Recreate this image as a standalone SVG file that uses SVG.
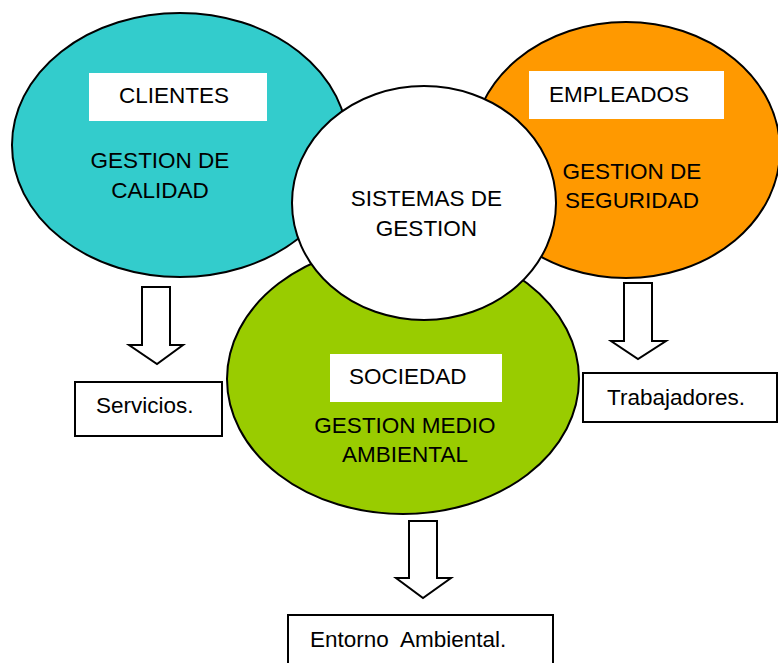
<svg xmlns="http://www.w3.org/2000/svg" width="778" height="663" viewBox="0 0 778 663">
<style>
  .ov { stroke: #000; stroke-width: 2; }
  .lbl { fill: #fff; stroke: none; }
  .box { fill: #fff; stroke: #000; stroke-width: 2; }
  .arr { fill: #fff; stroke: #000; stroke-width: 2; stroke-linejoin: miter; }
  text { font-family: "Liberation Sans", Arial, sans-serif; font-size: 22.5px; fill: #000; white-space: pre; }
  .c { text-anchor: middle; }
</style>
<rect x="0" y="0" width="778" height="663" fill="#fff"/>
<g id="calidad">
  <ellipse class="ov" cx="180" cy="145" rx="168" ry="132" fill="#33CCCC"/>
  <rect class="lbl" x="89" y="73" width="178" height="48"/>
  <text x="119" y="103">CLIENTES</text>
  <text class="c" x="160" y="168">GESTION DE</text>
  <text class="c" x="160" y="198">CALIDAD</text>
</g>
<g id="seguridad">
  <ellipse class="ov" cx="626" cy="150" rx="154" ry="128" fill="#FF9900"/>
  <rect class="lbl" x="529" y="71" width="195" height="48"/>
  <text x="549" y="102">EMPLEADOS</text>
  <text class="c" x="632" y="179">GESTION DE</text>
  <text class="c" x="632" y="208">SEGURIDAD</text>
</g>
<g id="medioambiente">
  <ellipse class="ov" cx="403" cy="379" rx="176" ry="135" fill="#99CC00"/>
  <rect class="lbl" x="330" y="354" width="172" height="48"/>
  <text x="349" y="384">SOCIEDAD</text>
  <text class="c" x="405" y="433">GESTION MEDIO</text>
  <text class="c" x="405" y="462">AMBIENTAL</text>
</g>
<g id="sistemas">
  <ellipse class="ov" cx="424" cy="203" rx="132" ry="117" fill="#fff"/>
  <text class="c" x="426.5" y="206">SISTEMAS DE</text>
  <text class="c" x="426.5" y="236">GESTION</text>
</g>
<g id="connectors">
  <polygon class="arr" points="142,287 170,287 170,345 183,345 157,364 129,345 142,345"/>
  <polygon class="arr" points="624,283 652,283 652,341 666,341 638,359 611,341 624,341"/>
  <polygon class="arr" points="409,521 437,521 437,578 451,578 423,598 396,578 409,578"/>
</g>
<g id="servicios">
  <rect class="box" x="75" y="382" width="147" height="54"/>
  <text x="96" y="413">Servicios.</text>
</g>
<g id="trabajadores">
  <rect class="box" x="583" y="373" width="194" height="49"/>
  <text x="607" y="405">Trabajadores.</text>
</g>
<g id="entorno">
  <rect class="box" x="288" y="615" width="265" height="60"/>
  <text x="310" y="647">Entorno  Ambiental.</text>
</g>
</svg>
